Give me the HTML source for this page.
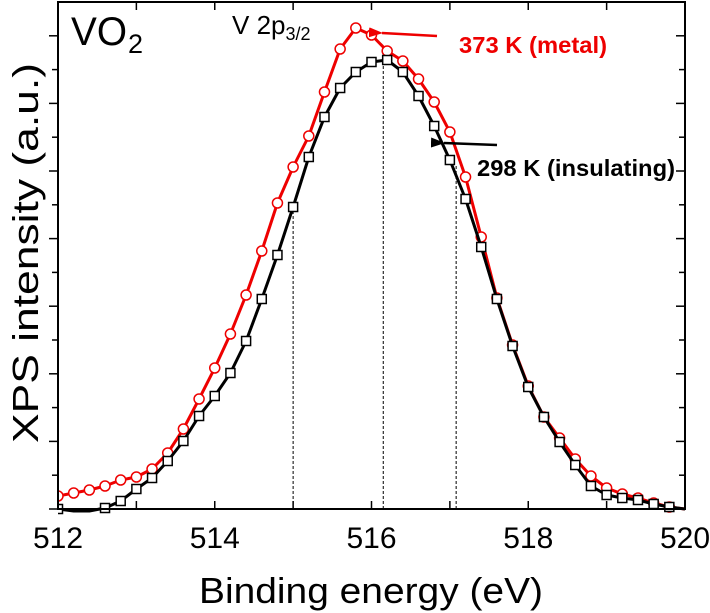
<!DOCTYPE html>
<html><head><meta charset="utf-8"><style>
html,body{margin:0;padding:0;background:#fff;}
svg{display:block;font-family:"Liberation Sans",Arial,sans-serif;}
</style></head><body>
<svg id="chart" width="710" height="613" viewBox="0 0 710 613" xmlns="http://www.w3.org/2000/svg">
<defs>
<marker id="ahR" markerWidth="14" markerHeight="10" refX="1" refY="5" orient="auto-start-reverse" markerUnits="userSpaceOnUse"><path d="M14,0 L0,5 L14,10 z" fill="#e00"/></marker>
<marker id="ahK" markerWidth="14" markerHeight="10" refX="1" refY="5" orient="auto-start-reverse" markerUnits="userSpaceOnUse"><path d="M14,0 L0,5 L14,10 z" fill="#000"/></marker>
</defs>
<g id="marks"></g>
<g id="axes"></g>
<text x="71" y="45" font-size="40" textLength="56" lengthAdjust="spacingAndGlyphs">VO</text>
<text x="128" y="53" font-size="27">2</text>
<text x="232" y="34" font-size="26">V 2p<tspan font-size="18" dy="6">3/2</tspan></text>
<text x="459" y="53" font-size="23" font-weight="bold" fill="#e00" textLength="148" lengthAdjust="spacingAndGlyphs">373 K (metal)</text>
<line x1="437" y1="36" x2="382" y2="33" stroke="#e00" stroke-width="2.5" marker-end="url(#ahR)"/>
<text x="477" y="176" font-size="23" font-weight="bold" fill="#000" textLength="198" lengthAdjust="spacingAndGlyphs">298 K (insulating)</text>
<line x1="497" y1="145" x2="444" y2="143" stroke="#000" stroke-width="2.5" marker-end="url(#ahK)"/>
<text x="199" y="603" font-size="36" textLength="344" lengthAdjust="spacingAndGlyphs">Binding energy (eV)</text>
<text transform="translate(38,443) rotate(-90)" font-size="36" textLength="380" lengthAdjust="spacingAndGlyphs">XPS intensity (a.u.)</text>
</svg>
<script>
const energies = [512.0,512.2,512.4,512.6,512.8,513.0,513.2,513.4,513.6,513.8,514.0,514.2,514.4,514.6,514.8,515.0,515.2,515.4,515.6,515.8,516.0,516.2,516.4,516.6,516.8,517.0,517.2,517.4,517.6,517.8,518.0,518.2,518.4,518.6,518.8,519.0,519.2,519.4,519.6,519.8,520.0];
const metal373 = [13,16,19,23,29,32,40,56,80,110,141,175,214,258,306,342,373,417,460,481,474,458,448,430,407,377,332,272,211,164,123,92,71,50,33,21,15,11,6,2,0];
const insul298 = [0,-2,-2,1,8,20,31,48,68,93,113,136,168,210,254,302,352,392,421,437,447,449,437,413,383,349,310,262,210,163,122,92,67,44,23,14,11,9,5,2,0];
const xTicks = [512,513,514,515,516,517,518,519,520];
const xLabels = [512,514,516,518,520];
const yTicks = [0,1,2,3,4,5,6,7,8,9,10,11,12,13,14];
const guideLines = [515.0,516.15,517.08];

const X0=58,X1=685,Y0=509,Y1=2;
const xs = e => X0 + (e-512)/(520-512)*(X1-X0);
const ys = v => Y0 - v;
const NS="http://www.w3.org/2000/svg";
const marks=document.getElementById('marks'), axes=document.getElementById('axes');
function mk(tag,attrs,parent){const el=document.createElementNS(NS,tag);for(const k in attrs)el.setAttribute(k,attrs[k]);parent.appendChild(el);return el;}

guideLines.forEach(g=>{
  const l=mk('line',{x1:xs(g),x2:xs(g),y1:Y0,y2:ys(insul298[Math.round((g-512)/0.2)])+4,stroke:'#000','stroke-width':1,'stroke-dasharray':'3,2'},marks);
  
  
});

function series(vals,color,shape,name){
  const pts=energies.map((e,i)=>xs(e)+','+Math.min(Y0+8,ys(vals[i]))).join(' ');
  const pl=mk('polyline',{points:pts,fill:'none',stroke:color,'stroke-width':3,'stroke-linejoin':'round'},marks);
  
  
  energies.forEach((e,i)=>{
    if(e>519.9 || vals[i]<0) return;
    let m;
    if(shape==='circle') m=mk('circle',{cx:xs(e),cy:ys(vals[i]),r:5,fill:'#fff',stroke:color,'stroke-width':1.5},marks);
    else m=mk('rect',{x:xs(e)-4.5,y:ys(vals[i])-4.5,width:9,height:9,fill:'#fff',stroke:color,'stroke-width':1.5},marks);
    
    
  });
}
const clip=mk('clipPath',{id:'pc'},document.querySelector('defs'));
mk('rect',{x:X0,y:Y1,width:X1-X0,height:Y0-Y1+6},clip);
marks.setAttribute('clip-path','url(#pc)');
series(metal373,'#e00','circle','metal-373k');
series(insul298,'#000','square','insulating-298k');

const frame=mk('rect',{x:X0,y:Y1,width:X1-X0,height:Y0-Y1,fill:'none',stroke:'#000','stroke-width':2},axes);


xTicks.forEach(t=>{
  const a=mk('line',{x1:xs(t),x2:xs(t),y1:Y0,y2:Y0-8,stroke:'#000','stroke-width':1.5},axes);
  
  
  const b=mk('line',{x1:xs(t),x2:xs(t),y1:Y1,y2:Y1+8,stroke:'#000','stroke-width':1.5},axes);
  
  
});
xLabels.forEach(t=>{
  const tx=mk('text',{x:xs(t),y:548,'font-size':30,'text-anchor':'middle'},axes);
  tx.textContent=t;
  
  
});
yTicks.forEach(k=>{
  const y=Y0-k*33.8, len=(k%2===0)?9:6;
  const a=mk('line',{x1:X0,x2:X0-len,y1:y,y2:y,stroke:'#000','stroke-width':1.5},axes);
  
  
  const b=mk('line',{x1:X1,x2:X1-len,y1:y,y2:y,stroke:'#000','stroke-width':1.5},axes);
  
  
});
</script>
</body></html>
